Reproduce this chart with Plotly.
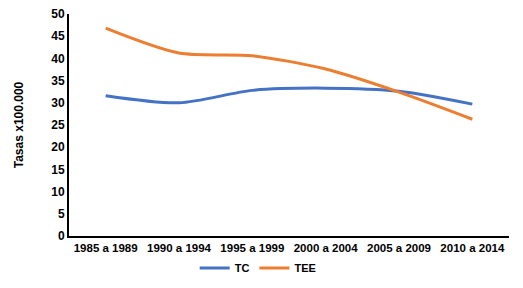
import plotly.graph_objects as go

categories = ["1985 a 1989", "1990 a 1994", "1995 a 1999", "2000 a 2004", "2005 a 2009", "2010 a 2014"]
tc_values = [31.6, 30.0, 32.8, 33.3, 32.6, 29.7]
tee_values = [46.8, 41.2, 40.6, 37.6, 32.4, 26.3]
y_ticks = [0, 5, 10, 15, 20, 25, 30, 35, 40, 45, 50]

FAM = "Liberation Sans, Arial, sans-serif"
bold = dict(family=FAM, size=11, color="black", weight="bold")

fig = go.Figure()
fig.add_trace(go.Scatter(x=categories, y=tc_values, name="TC", mode="lines",
                         line=dict(color="#4472C4", width=3, shape="spline", smoothing=0.8)))
fig.add_trace(go.Scatter(x=categories, y=tee_values, name="TEE", mode="lines",
                         line=dict(color="#ED7D31", width=3, shape="spline", smoothing=0.8)))

fig.update_layout(
    width=523, height=288,
    margin=dict(l=61, r=22, t=6, b=60, autoexpand=False),
    paper_bgcolor="white", plot_bgcolor="white",
    font=dict(family=FAM, size=11, color="black"),
    showlegend=True,
    legend=dict(orientation="h", x=0.43, xanchor="center", xref="paper",
                yref="container", y=0.097, yanchor="middle",
                font=bold, itemwidth=30, tracegroupgap=0),
)
fig.update_xaxes(type="category", showline=True, linecolor="black", linewidth=2,
                 showgrid=False, ticks="", automargin=False,
                 tickfont=dict(family=FAM, size=11.5, color="black", weight="bold"),
                 ticklabeloverflow="allow", range=[-0.5, 5.5])
fig.update_yaxes(range=[0, 50], tickvals=y_ticks, showline=True, linecolor="black", linewidth=2,
                 showgrid=False, ticks="", zeroline=False, automargin=False,
                 ticklabeloverflow="allow",
                 tickfont=dict(family=FAM, size=12, color="black", weight="bold"),
                 title=dict(text="<b>Tasas x100.000</b>", font=dict(size=12, color="black"), standoff=25))

fig.write_html("out.html")
